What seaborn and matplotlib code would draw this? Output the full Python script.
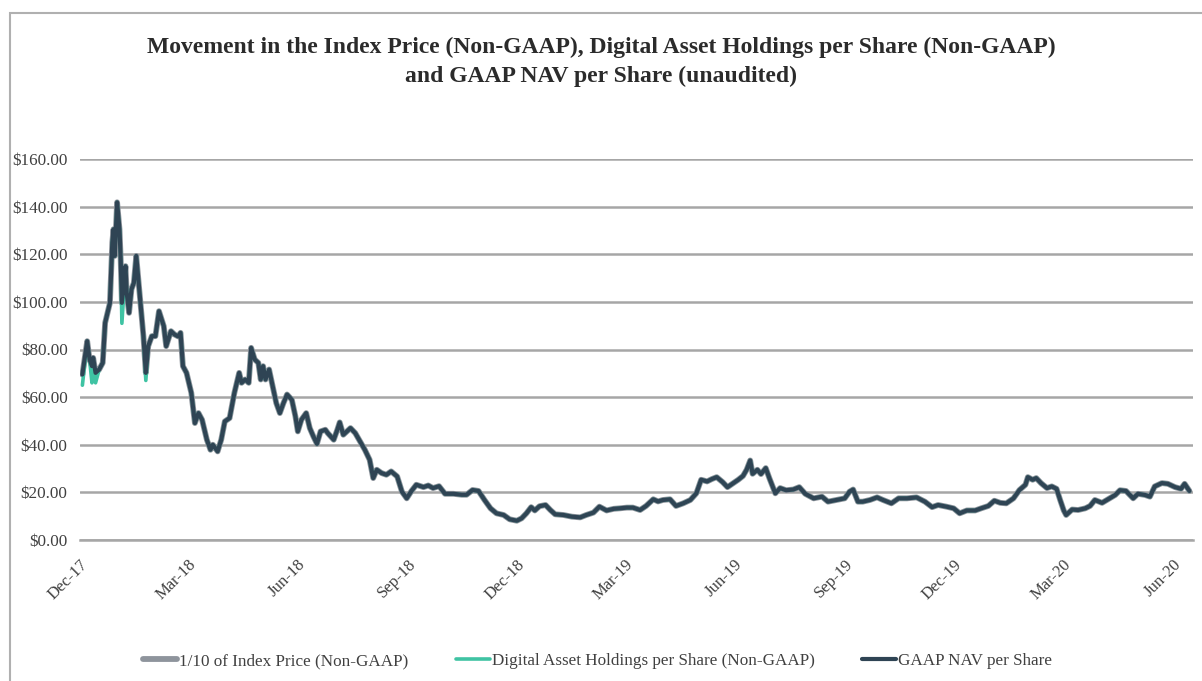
import pandas as pd
import matplotlib.pyplot as plt
import matplotlib.patches as mpatches
import seaborn as sns

# Fecha base del eje (primer día de los datos)
start_date = '2017-12-20'

# Días desde el inicio y valor del GAAP NAV por acción
days = [2, 6, 8, 10, 11, 13, 16, 19, 21, 25, 27, 28, 29, 31, 33, 34, 35, 38, 39, 41,
        43, 45, 47, 49, 51, 53, 55, 57, 60, 63, 66, 70, 72, 76, 79, 82, 84, 86, 89, 93,
        96, 99, 102, 106, 109, 111, 115, 118, 121, 125, 129, 133, 135, 138, 141, 143, 146, 149, 151, 153,
        155, 158, 161, 164, 167, 170, 173, 177, 180, 182, 185, 189, 192, 195, 198, 201, 205, 207, 212, 215,
        217, 220, 223, 226, 230, 234, 238, 242, 245, 248, 252, 256, 260, 265, 269, 273, 277, 281, 287, 291,
        295, 300, 305, 312, 319, 323, 328, 333, 338, 343, 348, 354, 359, 365, 369, 373, 377, 380, 384, 389,
        393, 397, 404, 411, 418, 423, 429, 434, 440, 446, 451, 457, 462, 468, 473, 479, 483, 487, 493, 498,
        504, 510, 515, 519, 524, 528, 532, 537, 541, 545, 550, 554, 557, 560, 562, 566, 569, 573, 576, 581,
        585, 590, 596, 601, 606, 613, 620, 625, 632, 639, 643, 646, 650, 654, 660, 666, 671, 678, 684, 691,
        699, 706, 712, 717, 724, 730, 735, 741, 748, 753, 759, 764, 769, 774, 780, 785, 790, 792, 796, 799,
        803, 808, 812, 816, 819, 822, 824, 829, 834, 840, 844, 848, 854, 859, 865, 869, 874, 880, 884, 890,
        894, 898, 904, 909, 915, 920, 923, 927]
nav = [69.5, 83.5, 75.8, 73.0, 76.5, 70.2, 71.6, 74.4, 91.2, 99.6, 125.0, 130.5, 119.3, 141.8, 130.5, 117.9, 99.6, 115.0, 103.9, 95.4,
       105.3, 108.0, 119.3, 108.0, 96.8, 85.6, 70.2, 81.4, 85.6, 85.6, 96.1, 89.8, 81.4, 87.7, 86.3, 85.5, 87.0, 73.0, 70.2, 61.8,
       49.1, 53.3, 50.5, 42.1, 37.9, 40.0, 37.2, 42.1, 49.8, 51.2, 61.8, 70.2, 66.0, 67.4, 66.0, 80.7, 75.8, 74.4, 67.4, 73.0,
       67.4, 71.6, 64.6, 57.5, 53.3, 57.5, 61.1, 58.9, 51.9, 45.6, 50.5, 53.3, 47.0, 43.5, 40.4, 45.6, 46.3, 44.9, 42.1, 46.3,
       49.4, 44.2, 45.6, 47.0, 44.9, 41.4, 37.9, 33.7, 26.0, 29.5, 28.1, 27.4, 28.8, 26.7, 20.3, 17.5, 20.6, 23.2, 22.2, 22.9,
       21.8, 22.6, 19.4, 19.4, 19.0, 19.0, 21.0, 20.6, 16.8, 13.3, 11.2, 10.5, 8.7, 8.1, 9.1, 11.2, 13.8, 12.4, 14.2, 14.7,
       12.6, 10.8, 10.5, 9.8, 9.5, 10.5, 11.5, 14.0, 12.4, 13.1, 13.3, 13.6, 13.6, 12.6, 14.3, 17.1, 16.2, 16.8, 17.1, 14.3,
       15.4, 16.8, 19.6, 25.3, 24.6, 25.6, 26.4, 24.3, 22.2, 23.6, 25.3, 26.9, 29.5, 33.4, 27.8, 29.5, 27.7, 30.2, 26.0, 19.6,
       21.8, 20.9, 21.2, 22.2, 19.4, 17.5, 18.2, 16.1, 16.8, 17.5, 20.3, 21.2, 16.1, 16.1, 16.8, 17.9, 16.8, 15.4, 17.5, 17.5,
       17.9, 16.1, 13.8, 14.7, 14.0, 13.3, 11.2, 12.4, 12.4, 13.3, 14.3, 16.5, 15.6, 15.4, 17.5, 21.0, 23.2, 26.4, 25.3, 26.0,
       23.9, 21.8, 22.5, 21.5, 16.8, 12.4, 10.5, 12.8, 12.6, 13.3, 14.3, 16.8, 15.6, 17.1, 18.9, 20.9, 20.6, 17.5, 19.4, 18.9,
       18.2, 22.5, 23.9, 23.6, 22.2, 21.5, 23.6, 20.6]

# Mínimos donde la línea verde (Digital Asset Holdings) asoma por debajo
holdings_dips = {2: 65.0, 10: 66.0, 13: 66.0, 35: 91.0, 55: 67.0}

legend_labels = ['1/10 of Index Price (Non-GAAP)',
                 'Digital Asset Holdings per Share (Non-GAAP)',
                 'GAAP NAV per Share']

df = pd.DataFrame({'Dias': days, 'NAV': nav})
df['Fecha'] = pd.Timestamp(start_date) + pd.to_timedelta(df['Dias'], unit='D')
df['Index'] = df['NAV']
df['Holdings'] = [holdings_dips.get(d, v) for d, v in zip(days, nav)]

sns.set_style('white')
plt.rcParams['font.family'] = ['Liberation Serif', 'DejaVu Serif']

fig = plt.figure(figsize=(12.02, 6.81), dpi=100)
ax = fig.add_axes([80 / 1202, 1 - 540 / 681, (1193 - 80) / 1202, (540 - 159) / 681])

sns.lineplot(data=df, x='Fecha', y='Index', ax=ax, color='#8e949c', lw=4.2, label=legend_labels[0])
sns.lineplot(data=df, x='Fecha', y='Holdings', ax=ax, color='#3fc3a3', lw=2.6, label=legend_labels[1])
sns.lineplot(data=df, x='Fecha', y='NAV', ax=ax, color='#2f4454', lw=3.0, label=legend_labels[2])

# Ejes
x0 = pd.Timestamp(start_date)
ax.set_xlim(x0, x0 + pd.Timedelta(days=930))
ax.set_ylim(0, 160)
ticks = pd.date_range(start_date, periods=11, freq=pd.DateOffset(months=3))
ax.set_xticks(ticks)
ax.set_xticklabels([t.strftime('%b-%y') for t in ticks], rotation=45, ha='right',
                   rotation_mode='anchor', fontsize=12, color='#404040')
ax.set_yticks(range(0, 161, 20))
ax.set_yticklabels([f'${v:,.2f}' for v in range(0, 161, 20)], fontsize=12.3, color='#404040')
ax.set_xlabel('')
ax.set_ylabel('')
ax.grid(axis='y', color='#a6a6a6', lw=1.8)
ax.grid(axis='x', visible=False)
ax.set_axisbelow(True)
for s in ['top', 'right', 'left']:
    ax.spines[s].set_visible(False)
ax.spines['bottom'].set_color('#a6a6a6')
ax.spines['bottom'].set_linewidth(1.8)
ax.tick_params(axis='x', direction='out', length=5, width=1.2, color='#a6a6a6', pad=7)
ax.tick_params(axis='y', length=0, pad=9)

# Título
fig.text(0.5, 1 - 47 / 681, 'Movement in the Index Price (Non-GAAP), Digital Asset Holdings per Share (Non-GAAP)',
         ha='center', va='center', fontsize=17, fontweight='bold', color='#2b2b2b')
fig.text(0.5, 1 - 76 / 681, 'and GAAP NAV per Share (unaudited)',
         ha='center', va='center', fontsize=17, fontweight='bold', color='#2b2b2b')

# Leyenda
ax.get_legend().remove()
handles, labels = ax.get_legend_handles_labels()
fig.legend(handles, labels, loc='center', bbox_to_anchor=(0.497, 1 - 661 / 681), ncol=3,
           frameon=False, fontsize=12.3, handlelength=2.0, handletextpad=0.1,
           columnspacing=2.8, labelcolor='#404040')

# Marco del gráfico
fig.patches.append(mpatches.Rectangle((10 / 1202, -0.1), 1.2, 0.1 + 1 - 13 / 681,
                                      transform=fig.transFigure, fill=False,
                                      edgecolor='#b0b0b0', lw=1.5))

fig.savefig('out.png', dpi=100)
